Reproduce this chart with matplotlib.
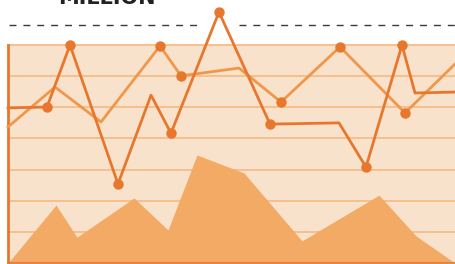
import matplotlib
matplotlib.use("Agg")
import matplotlib.pyplot as plt

# colours
BG = "#F9E2CC"
GRID = "#F5BC88"
DARK = "#E8772E"
LIGHT = "#F0974A"
AREA = "#F2AA64"
TEXT = "#222222"

# data (x positions, values in "million")
dark_x = [8, 47, 70, 118, 151, 171, 219, 270, 339, 366, 402, 415, 455]
dark_y = [49.8, 50.1, 70.0, 25.4, 53.9, 41.7, 80.6, 44.6, 45.0, 30.8, 70.0, 54.6, 54.9]
dark_mark = [1, 2, 3, 5, 6, 7, 9, 10]

light_x = [8, 55, 101, 160, 181, 239, 281, 340, 405, 455]
light_y = [43.7, 56.5, 45.3, 69.7, 60.1, 62.6, 51.7, 69.4, 48.2, 63.9]
light_mark = [3, 4, 6, 7, 8]

area_x = [8, 56, 77, 134, 168, 197, 244, 302, 379, 416, 455]
area_y = [0, 18.6, 8.3, 20.9, 10.6, 34.7, 28.9, 7.1, 21.8, 8.7, 0]

grid_levels = [10, 20, 30, 40, 50, 60]
panel_top = 70
dash_level = 76.4

fig = plt.figure(figsize=(4.55, 2.64), dpi=100)
ax = fig.add_axes([0, 0, 1, 1])
ax.set_xlim(0, 455)
ax.set_ylim(-0.32, 84.46)
ax.axis("off")

# panel background
ax.fill_between([8, 455], 0, panel_top, color=BG, zorder=0, linewidth=0)
for g in grid_levels + [panel_top]:
    ax.plot([8, 455], [g, g], color=GRID, linewidth=1.3, zorder=1)

# area
ax.fill_between(area_x, 0, area_y, color=AREA, linewidth=0, zorder=2)

# axis lines
ax.plot([8, 8], [0, panel_top], color=DARK, linewidth=2.0, zorder=3)
ax.plot([8, 455], [0, 0], color=DARK, linewidth=1.2, zorder=3)

# lines
ax.plot(light_x, light_y, color=LIGHT, linewidth=2.0, zorder=4)
ax.plot([light_x[i] for i in light_mark], [light_y[i] for i in light_mark],
        "o", color=DARK, markersize=6.5, zorder=6)
ax.plot(dark_x, dark_y, color=DARK, linewidth=2.0, zorder=5)
ax.plot([dark_x[i] for i in dark_mark], [dark_y[i] for i in dark_mark],
        "o", color=DARK, markersize=6.5, zorder=6)

# dashed rule
for seg in ([9, 199], [239, 455]):
    ax.plot(seg, [dash_level, dash_level], color="#3A3A3A", linewidth=1.0,
            dashes=(5, 5), zorder=3)

ax.text(107, 83.2, "MILLION", ha="center", va="baseline", fontsize=15,
        fontweight="bold", color=TEXT)

fig.savefig("out.png", dpi=100, facecolor="white")
